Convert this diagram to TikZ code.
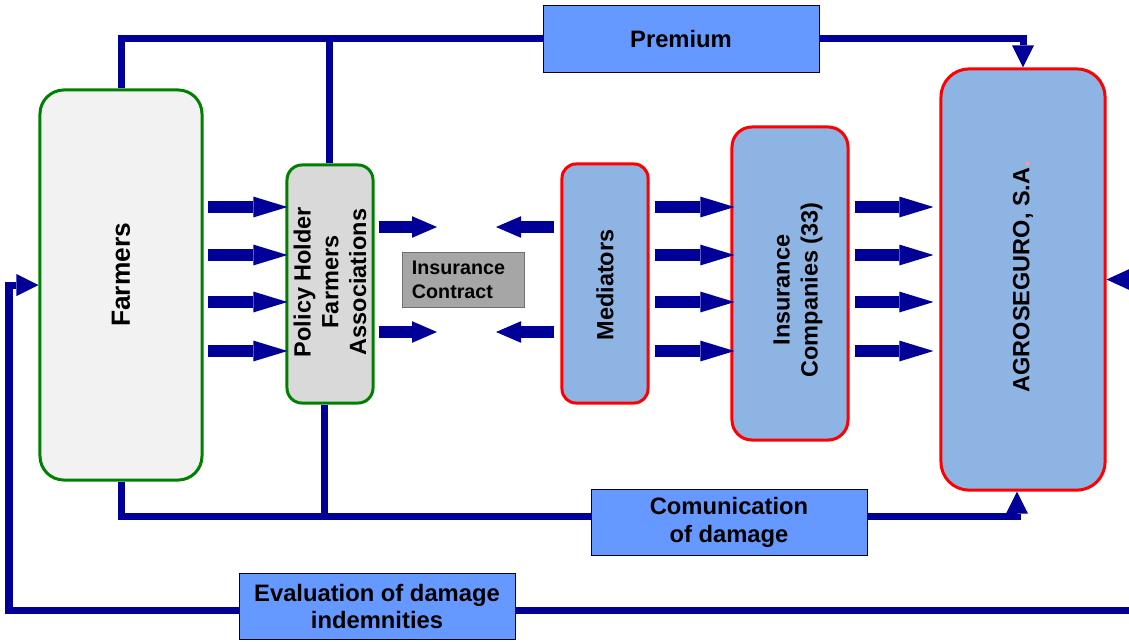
\documentclass[tikz,border=0pt]{standalone}
\usepackage{fontspec}
\setmainfont{Liberation Sans}
\usetikzlibrary{arrows.meta,calc}
\definecolor{navy}{HTML}{000099}
\definecolor{farmfill}{HTML}{F2F2F2}
\definecolor{phfill}{HTML}{D9D9D9}
\definecolor{bluefill}{HTML}{8EB4E3}
\definecolor{lblue}{HTML}{6699FF}
\definecolor{greyfill}{HTML}{A6A6A6}
\definecolor{greyline}{HTML}{707070}
\definecolor{gline}{HTML}{008000}
\definecolor{rline}{HTML}{FF0000}
\definecolor{pinkdot}{HTML}{FF9999}
\begin{document}
\begin{tikzpicture}[x=0.025cm,y=-0.025cm,
  gbox/.style={draw=gline, line width=0.075cm, inner sep=0pt},
  rbox/.style={draw=rline, line width=0.075cm, fill=bluefill, inner sep=0pt},
  lbox/.style={draw=black, line width=0.6pt, fill=lblue, inner sep=0pt, align=center,
    minimum width=6.9cm, minimum height=1.65cm, font=\fontsize{16.9}{19.8}\selectfont\bfseries},
  cbox/.style={draw=greyline, line width=0.6pt, fill=greyfill, inner xsep=0.25cm, inner ysep=0pt,
    text width=2.55cm, align=left, minimum height=1.375cm, font=\fontsize{14}{17}\selectfont\bfseries},
  txt/.style={align=center, inner sep=0pt, font=\fontsize{16.7}{19.8}\selectfont\bfseries},
  conn/.style={draw=navy, line width=0.175cm},
  tipA/.style={-{Triangle[length=0.55cm,width=0.55cm,line width=0pt]}},
  tipB/.style={-{Triangle[length=0.6cm,width=0.55cm,line width=0pt]}},
  blk/.style={draw=navy, line width=0.32cm, -{Triangle[length=0.85cm,width=0.52cm,line width=0pt]}},
  blks/.style={draw=navy, line width=0.32cm, -{Triangle[length=0.625cm,width=0.54cm,line width=0pt]}}
]
\useasboundingbox (0,0) rectangle (1129,641);
\clip (0,0) rectangle (1129,641);

% main boxes
\node[gbox, fill=farmfill, minimum width=4.05cm, minimum height=9.75cm, rounded corners=0.6cm] (farmers) at (121,285) {};
\node[gbox, fill=phfill, minimum width=2.15cm, minimum height=5.95cm, rounded corners=0.375cm] (ph) at (330,284) {};
\node[rbox, minimum width=2.15cm, minimum height=5.975cm, rounded corners=0.35cm] (med) at (605,283.5) {};
\node[rbox, minimum width=2.9cm, minimum height=7.825cm, rounded corners=0.5cm] (ic) at (790,283.5) {};
\node[rbox, minimum width=4.1cm, minimum height=10.525cm, rounded corners=0.7cm] (agro) at (1023,279.5) {};

% texts of main boxes
\node[txt, rotate=90, font=\fontsize{18.7}{22}\selectfont\bfseries] (farmersT) at (121,275) {Farmers};
\node[txt, rotate=90] (phT) at (330,282) {Policy Holder\\Farmers\\Associations};
\node[txt, rotate=90] (medT) at (605,285) {Mediators};
\node[txt, rotate=90] (icT) at (798,290) {Insurance\\Companies (33)};
\node[txt, rotate=90] (agroT) at (1023,280) {AGROSEGURO, S.A\rlap{\color{pinkdot}.}};

% label boxes
\node[lbox, minimum height=1.675cm] (premium) at (681,38.5) {Premium};
\node[lbox] (comm) at (729,522) {Comunication\\of damage};
\node[lbox] (eval) at (377,606.5) {Evaluation of damage\\indemnities};
\node[cbox] (contract) at (463,279.5) {Insurance\\Contract};

% premium flow
\draw[conn] (farmers.north) |- (premium.west);
\draw[conn] ([xshift=-0.025cm]ph.north) -- ([xshift=-0.025cm]ph.north |- premium.west);
\draw[conn, tipA] (premium.east) -| (agro.north);

% communication of damage flow
\coordinate (yC) at (0,516);
\draw[conn] (farmers.south) |- (comm.west |- yC);
\draw[conn] ([xshift=-0.15cm]ph.south) -- ([xshift=-0.15cm]ph.south |- yC);
\draw[conn, tipA] (comm.east |- yC) -| ([xshift=-0.15cm]agro.south);

% evaluation flow
\coordinate (eR) at (1140,610);
\coordinate (eL) at (9,610);
\draw[conn] (eR) -- (eval.east |- eR);
\draw[conn, tipA] (eval.west |- eR) -- (eL) |- (farmers.west);
\coordinate (aR) at (1135,279.5);
\draw[conn, tipB] (aR) -- (agro.east);

% block arrows
\coordinate (r1) at (0,207);
\coordinate (r2) at (0,255);
\coordinate (r3) at (0,302);
\coordinate (r4) at (0,351);
\foreach \i in {1,...,4} {
  \draw[blk] ([xshift=0.1cm]farmers.east |- r\i) -- ([xshift=0.05cm]ph.west |- r\i);
  \draw[blk] ([xshift=0.125cm]med.east |- r\i) -- ([xshift=0.1cm]ic.west |- r\i);
  \draw[blk] ([xshift=0.125cm]ic.east |- r\i) -- ([xshift=-0.15cm]agro.west |- r\i);
}
\coordinate (s1) at (0,227);
\coordinate (s2) at (0,332);
\coordinate (cL1) at (437,227);
\coordinate (cL2) at (437,332);
\coordinate (cR1) at (496,227);
\coordinate (cR2) at (496,332);
\draw[blks] ([xshift=0.1cm]ph.east |- s1) -- (cL1);
\draw[blks] ([xshift=0.1cm]ph.east |- s2) -- (cL2);
\draw[blks] ([xshift=-0.15cm]med.west |- s1) -- (cR1);
\draw[blks] ([xshift=-0.15cm]med.west |- s2) -- (cR2);
\end{tikzpicture}
\end{document}
